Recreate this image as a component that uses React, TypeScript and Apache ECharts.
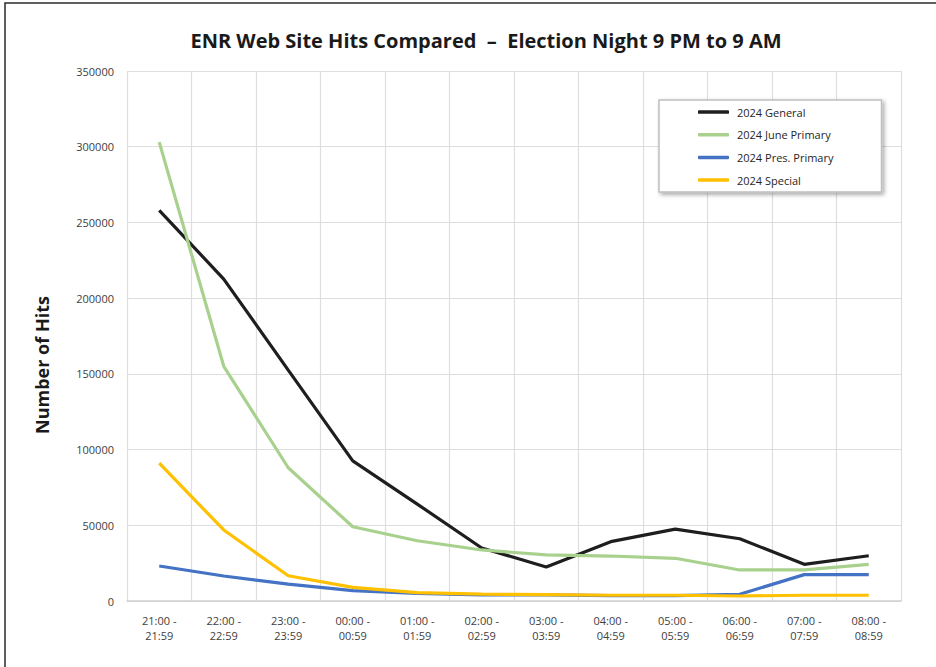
import React, { useEffect, useRef } from "react";
import * as echarts from "echarts";

const categories = [
  "21:00 -\n21:59", "22:00 -\n22:59", "23:00 -\n23:59", "00:00 -\n00:59",
  "01:00 -\n01:59", "02:00 -\n02:59", "03:00 -\n03:59", "04:00 -\n04:59",
  "05:00 -\n05:59", "06:00 -\n06:59", "07:00 -\n07:59", "08:00 -\n08:59",
];
const general = [258000, 212600, 152500, 92500, 64000, 35000, 22500, 39200, 47500, 41100, 24200, 29900];
const junePrimary = [303000, 155000, 88000, 49000, 39800, 33700, 30400, 29700, 28200, 20500, 20500, 24200];
const presPrimary = [23100, 16500, 11200, 6800, 5000, 4000, 4000, 3600, 3600, 4400, 17400, 17400];
const special = [91000, 46900, 16700, 9000, 5500, 4500, 4200, 3800, 3800, 3300, 3800, 3800];
const seriesNames = ["2024 General", "2024 June Primary", "2024 Pres. Primary", "2024 Special"];
const seriesColors = ["#1e1e1e", "#a9d18e", "#4472c4", "#ffc000"];
const titleText = "ENR Web Site Hits Compared  \u2013  Election Night 9 PM to 9 AM";
const yAxisTitle = "Number of Hits";

export default function App() {
  const ref = useRef<HTMLDivElement>(null);
  useEffect(() => {
    if (!ref.current) return;
    const chart = echarts.init(ref.current, null, { renderer: "svg" });
    const data = [general, junePrimary, presPrimary, special];
    chart.setOption({
      animation: false,
      backgroundColor: "#ffffff",
      textStyle: { fontFamily: "Open Sans" },
      title: {
        text: titleText,
        left: 481,
        textAlign: "center",
        top: 25,
        textStyle: { fontFamily: "Open Sans", fontWeight: "bold", fontSize: 20, color: "#1a1a1a" },
      },
      graphic: [
        {
          type: "rect",
          shape: { x: 5, y: 3, width: 1200, height: 1200 },
          style: { fill: "none", stroke: "#2b2b2b", lineWidth: 1.5 },
          silent: true,
        },
        {
          type: "text",
          x: 42,
          y: 365,
          rotation: Math.PI / 2,
          style: {
            text: yAxisTitle,
            fontFamily: "Open Sans",
            fontWeight: "bold",
            fontSize: 18,
            fill: "#1a1a1a",
            align: "center",
            verticalAlign: "middle",
          },
          silent: true,
        },
      ],
      legend: {
        orient: "vertical",
        left: 659,
        top: 100,
        padding: [5, 48, 5, 39],
        itemGap: 8.7,
        itemWidth: 31,
        itemHeight: 3.5,
        icon: "roundRect",
        backgroundColor: "#ffffff",
        borderColor: "#bfbfbf",
        borderWidth: 1.5,
        shadowColor: "rgba(0,0,0,0.35)",
        shadowBlur: 4,
        shadowOffsetX: 2,
        shadowOffsetY: 2,
        textStyle: { fontFamily: "Open Sans", fontSize: 11, color: "#262626", lineHeight: 14, padding: [0, 0, 0, 3] },
        data: seriesNames,
      },
      grid: { left: 127, right: 35, top: 71, bottom: 66 },
      xAxis: {
        type: "category",
        data: categories,
        boundaryGap: true,
        axisLine: { lineStyle: { color: "#d0d0d0", width: 1.5 } },
        axisTick: { show: false },
        axisLabel: { interval: 0, fontSize: 11, color: "#404040", lineHeight: 15, margin: 12, fontFamily: "Open Sans" },
        splitLine: { show: true, interval: 0, lineStyle: { color: "#dedede", width: 1.2 } },
      },
      yAxis: {
        type: "value",
        min: 0,
        max: 350000,
        interval: 50000,
        axisLine: { show: false },
        axisTick: { show: false },
        axisLabel: {
          fontSize: 11,
          color: "#404040",
          margin: 13,
          fontFamily: "Open Sans",
          formatter: (v: number) => String(v),
        },
        splitLine: { lineStyle: { color: "#dedede", width: 1.2 } },
      },
      series: seriesNames.map((name, i) => ({
        name,
        type: "line",
        data: data[i],
        symbol: "none",
        z: 2 + i,
        lineStyle: { color: seriesColors[i], width: 3.2 },
        itemStyle: { color: seriesColors[i] },
      })),
    });
    return () => chart.dispose();
  }, []);
  return (
    <div
      ref={ref}
      style={{ position: "fixed", left: 0, top: 0, width: 936, height: 667 }}
    />
  );
}
